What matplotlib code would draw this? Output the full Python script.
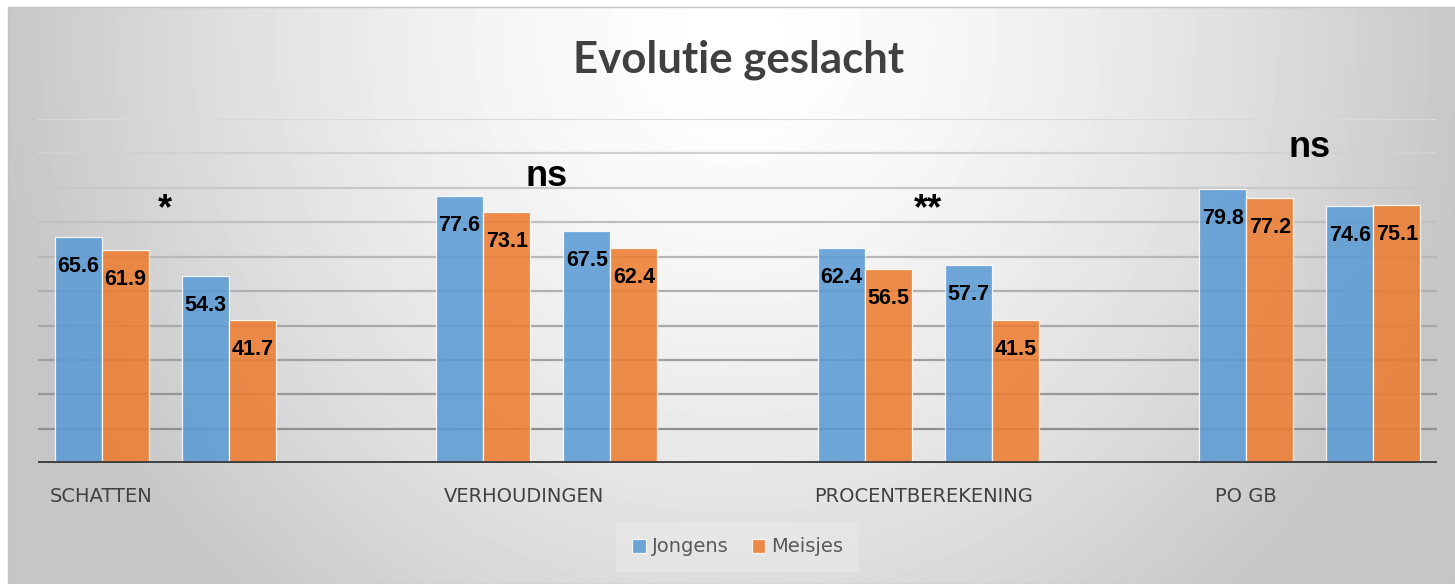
import numpy as np
import matplotlib
matplotlib.use("Agg")
import matplotlib.pyplot as plt
import matplotlib.transforms as mtransforms
from matplotlib.patches import Rectangle

# data
categories = ['SCHATTEN', 'VERHOUDINGEN', 'PROCENTBEREKENING', 'PO GB']
jongens_1 = [65.6, 77.6, 62.4, 79.8]
meisjes_1 = [61.9, 73.1, 56.5, 77.2]
jongens_2 = [54.3, 67.5, 57.7, 74.6]
meisjes_2 = [41.7, 62.4, 41.5, 75.1]
significance = ['*', 'ns', '**', 'ns']

# layout (not data)
sig_y = [71.0, 80.4, 71.0, 89.0]
label_shift = [0.0, 0.32, 0.46, 0.0]

W, H = 1455, 584
fig = plt.figure(figsize=(W / 100, H / 100), dpi=100)
fig.patch.set_facecolor('white')

# radial gray background of the chart area
bx0, by0 = 8, 7
bg = fig.add_axes([bx0 / W, 0, 1 - bx0 / W, 1 - by0 / H])
xx, yy = np.meshgrid(np.arange(bx0, W), np.arange(by0, H))
r = np.sqrt(((xx - 735) / 740.0) ** 2 + ((yy - 35) / 770.0) ** 2)
val = 255 - 57 * np.clip(r, 0, 1) ** 1.5
bg.imshow(val, cmap='gray', vmin=0, vmax=255, aspect='auto', interpolation='bilinear')
bg.axis('off')
fig.patches.append(Rectangle((bx0 / W, 0), 1 - bx0 / W, 1 - by0 / H, transform=fig.transFigure,
                             fill=False, edgecolor='#c4c4c4', linewidth=1))

ax = fig.add_axes([38 / W, 120.7 / H, 1399 / W, 344.3 / H])
ax.patch.set_alpha(0)
ax.set_xlim(-0.5, 10.5)
ax.set_ylim(0, 100)
for s in ax.spines.values():
    s.set_visible(False)
ax.set_xticks([])
ax.set_yticks([])

for v in range(10, 101, 10):
    g = 0.53 + 0.0032 * v
    ax.axhline(v, color=(g, g, g), linewidth=1.6, zorder=0)
ax.axhline(0, color='#404040', linewidth=2.8, zorder=3)

blue = '#5B9BD5'
orange = '#ED7D31'
w = 0.37
x = np.arange(len(categories)) * 3
kw = dict(alpha=0.87, edgecolor=(1, 1, 1, 0.75), linewidth=0.9, zorder=2)
bj1 = ax.bar(x - w / 2, jongens_1, w, color=blue, label='Jongens', **kw)
bm1 = ax.bar(x + w / 2, meisjes_1, w, color=orange, label='Meisjes', **kw)
bj2 = ax.bar(x + 1 - w / 2, jongens_2, w, color=blue, **kw)
bm2 = ax.bar(x + 1 + w / 2, meisjes_2, w, color=orange, **kw)

for bars in (bj1, bm1, bj2, bm2):
    for b in bars:
        h = b.get_height()
        ax.annotate(f'{h:.1f}', (b.get_x() + b.get_width() / 2, h), xytext=(0, -25.2),
                    textcoords='offset points', ha='center', va='baseline',
                    fontsize=15.5, fontweight='bold', family='Liberation Sans',
                    color='black', zorder=4)

for i, s in enumerate(significance):
    ax.text(x[i] + 0.5, sig_y[i], s, ha='center', va='baseline', fontsize=26,
            fontweight='bold', family='Liberation Sans', color='black', clip_on=False)

trans = mtransforms.blended_transform_factory(ax.transData, fig.transFigure)
for i, c in enumerate(categories):
    ax.text(x[i] + label_shift[i], 1 - 502 / H, c, transform=trans, ha='center',
            va='baseline', fontsize=14, color='#404040', family='DejaVu Sans')

fig.text(738.5 / W, 1 - 73 / H, 'Evolutie geslacht', ha='center', va='baseline',
         fontsize=31.5, fontweight='bold', family='Lato', color='#404040')

leg = fig.legend(handles=[bj1, bm1], labels=['Jongens', 'Meisjes'], loc='center',
                 bbox_to_anchor=(737.5 / W, 1 - 547 / H), ncol=2, fontsize=14,
                 frameon=True, facecolor='#f2f2f2', edgecolor='none', framealpha=0.3,
                 handlelength=0.7, handleheight=0.7, handletextpad=0.3,
                 columnspacing=1.2, borderpad=0.8, labelcolor='#595959')
leg.get_frame().set_boxstyle('square', pad=0)

fig.savefig('out.png', dpi=100)
